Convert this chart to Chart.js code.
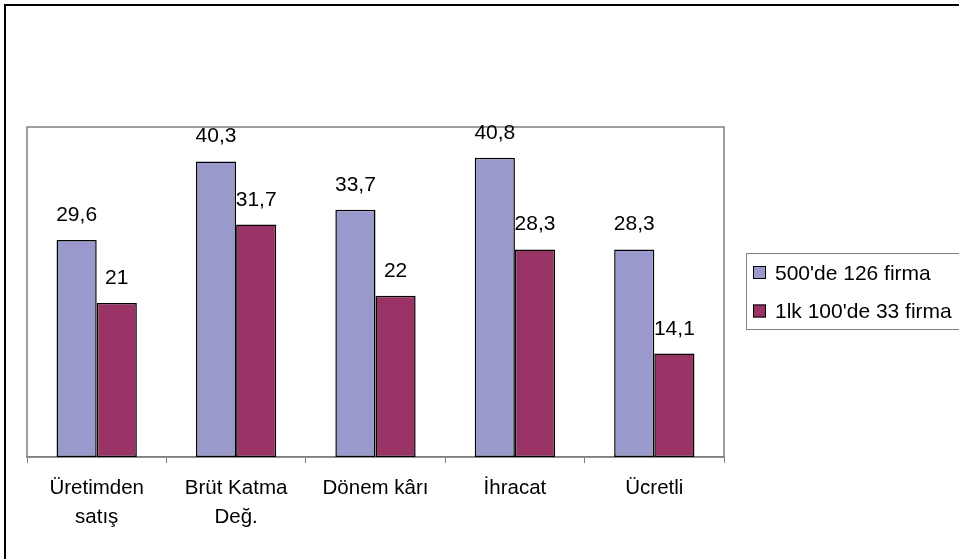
<!DOCTYPE html>
<html>
<head>
<meta charset="utf-8">
<script src="https://cdn.jsdelivr.net/npm/chart.js@4.4.1/dist/chart.umd.min.js"></script>
<style>
  html, body { margin: 0; padding: 0; background: #fff; }
  canvas { display: block; }
</style>
</head>
<body>
<canvas id="chart" width="959" height="559"></canvas>
<script>
// kategoriler ve seriler
const categories = [
  ['Üretimden', 'satış'],
  ['Brüt Katma', 'Değ.'],
  'Dönem kârı',
  'İhracat',
  'Ücretli'
];
const series1Label = "500'de 126 firma";
const series1 = [29.6, 40.3, 33.7, 40.8, 28.3];
const series2Label = "1lk 100'de 33 firma";
const series2 = [21, 31.7, 22, 28.3, 14.1];

const FONT = '"Liberation Sans", Arial, sans-serif';

// dış çerçeve + çizim alanı çerçevesi
const framePlugin = {
  id: 'frame',
  beforeDatasetsDraw(chart) {
    const { ctx, chartArea: a } = chart;
    ctx.save();
    ctx.strokeStyle = '#808080';
    ctx.lineWidth = 1.5;
    ctx.strokeRect(a.left, a.top, a.right - a.left, a.bottom - a.top);
    ctx.restore();
  },
  afterDraw(chart) {
    const ctx = chart.ctx;
    ctx.save();
    ctx.strokeStyle = '#000';
    ctx.lineWidth = 2;
    ctx.strokeRect(5, 5, 970, 570);
    ctx.restore();
  }
};

// çubuk üstü değer etiketleri
const valueLabels = {
  id: 'valueLabels',
  afterDatasetsDraw(chart) {
    const ctx = chart.ctx;
    ctx.save();
    ctx.font = '21px ' + FONT;
    ctx.fillStyle = '#000';
    ctx.textAlign = 'center';
    ctx.textBaseline = 'alphabetic';
    chart.data.datasets.forEach((ds, i) => {
      chart.getDatasetMeta(i).data.forEach((bar, j) => {
        const txt = String(ds.data[j]).replace('.', ',');
        ctx.fillText(txt, bar.x, bar.y - 19);
      });
    });
    ctx.restore();
  }
};

// sağdaki lejant
const boxLegend = {
  id: 'boxLegend',
  afterDraw(chart) {
    const ctx = chart.ctx;
    ctx.save();
    ctx.strokeStyle = '#808080';
    ctx.lineWidth = 1;
    ctx.strokeRect(746.5, 253.5, 230, 76);
    ctx.font = '21px ' + FONT;
    ctx.textBaseline = 'alphabetic';
    chart.data.datasets.forEach((ds, i) => {
      const y = 266 + i * 38.5;
      ctx.fillStyle = ds.backgroundColor;
      ctx.fillRect(753, y, 13, 13);
      ctx.strokeStyle = '#000';
      ctx.strokeRect(753.5, y + 0.5, 12, 12);
      ctx.fillStyle = '#000';
      ctx.fillText(ds.label, 775, y + 13.5);
    });
    ctx.restore();
  }
};

new Chart(document.getElementById('chart'), {
  type: 'bar',
  data: {
    labels: categories,
    datasets: [
      {
        label: series1Label,
        data: series1,
        backgroundColor: '#9999CC',
        borderColor: '#000',
        borderWidth: 1.5,
        borderSkipped: false
      },
      {
        label: series2Label,
        data: series2,
        backgroundColor: '#993366',
        borderColor: '#000',
        borderWidth: 1.5,
        borderSkipped: false
      }
    ]
  },
  options: {
    responsive: false,
    animation: false,
    devicePixelRatio: 1,
    layout: { padding: { left: 27, right: 235, top: 127, bottom: 0 } },
    datasets: { bar: { categoryPercentage: 0.576, barPercentage: 1 } },
    plugins: {
      legend: { display: false },
      tooltip: { enabled: false }
    },
    scales: {
      x: {
        grid: {
          offset: true,
          drawOnChartArea: false,
          drawTicks: true,
          tickLength: 6,
          color: '#808080'
        },
        border: { display: true, color: '#808080', width: 1.5 },
        ticks: {
          color: '#000',
          padding: 10,
          maxRotation: 0,
          autoSkip: false,
          font: { family: FONT, size: 20.5, lineHeight: 1.45 }
        },
        afterFit(scale) { scale.height = 102; }
      },
      y: {
        display: false,
        min: 0,
        max: 45
      }
    }
  },
  plugins: [framePlugin, valueLabels, boxLegend]
});
</script>
</body>
</html>
